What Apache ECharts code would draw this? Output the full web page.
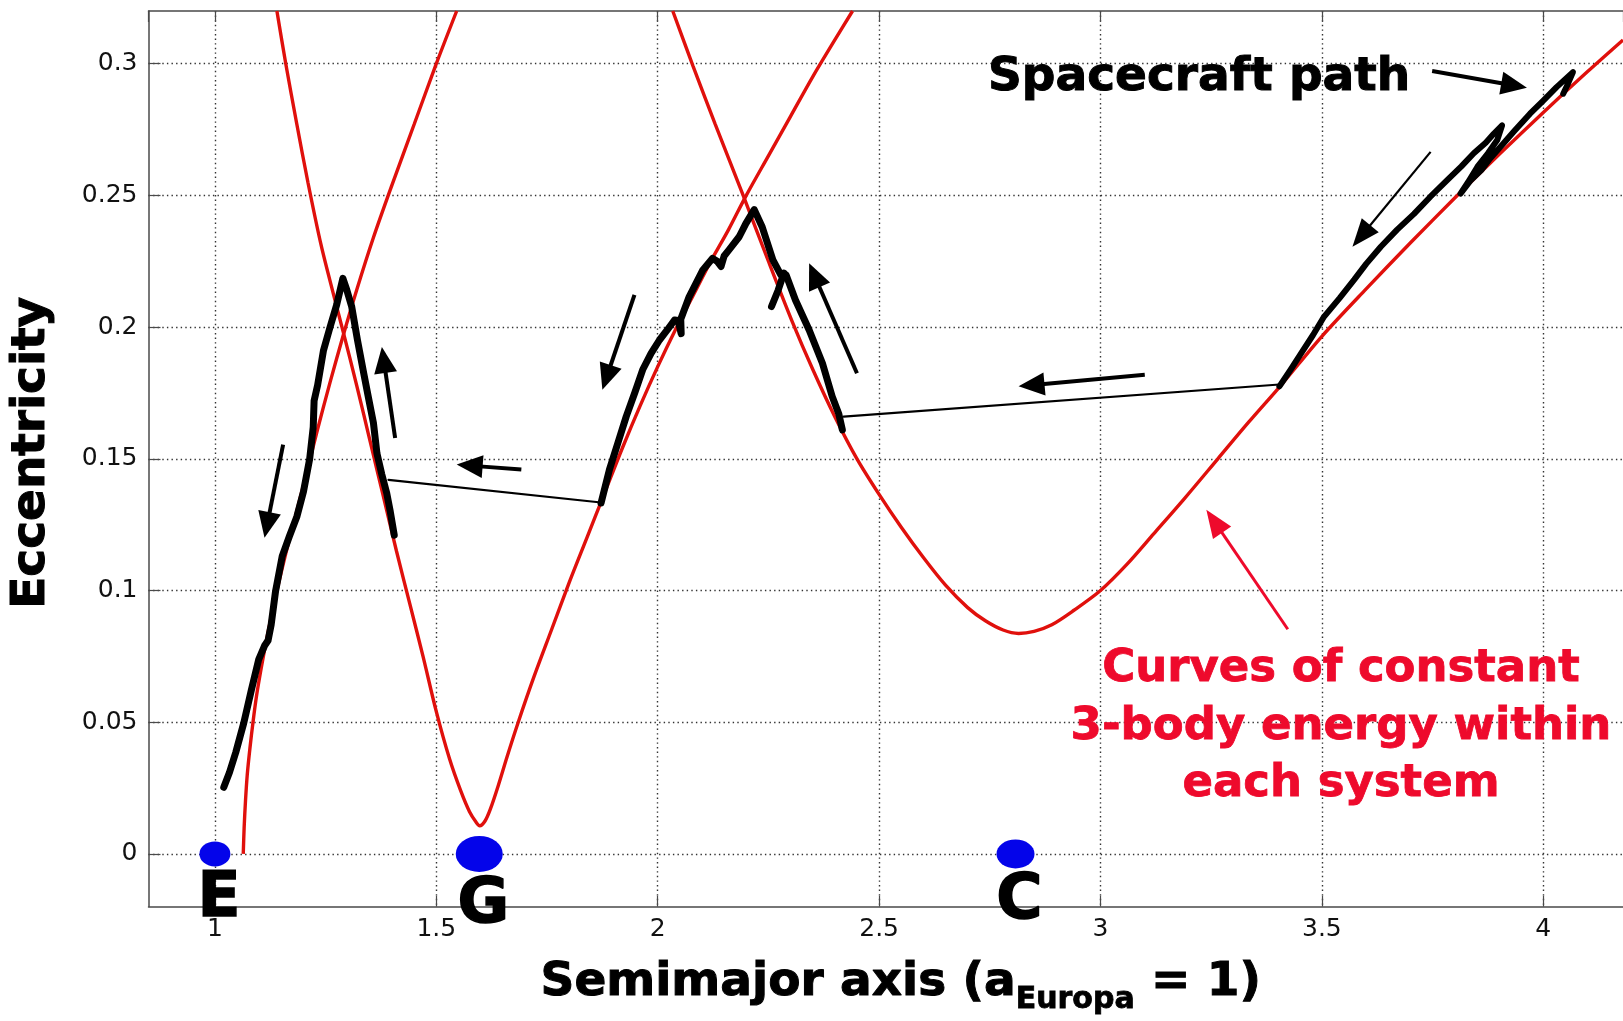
<!DOCTYPE html>
<html>
<head>
<meta charset="utf-8">
<title>Spacecraft path in semimajor axis / eccentricity</title>
<script src="https://cdn.jsdelivr.net/npm/echarts@6/dist/echarts.min.js"></script>
<style>
  html, body { margin: 0; padding: 0; background: #ffffff; }
  #chart { width: 1623px; height: 1021px; }
</style>
</head>
<body>
<div id="chart"></div>
<script>
// Constant 3-body energy curves, one per moon system: [semimajor axis, eccentricity]
const europaCurve = [
  [1.064, 0.000], [1.066, 0.010], [1.069, 0.020], [1.073, 0.030], [1.079, 0.040],
  [1.086, 0.050], [1.094, 0.060], [1.104, 0.070], [1.115, 0.080], [1.127, 0.090],
  [1.140, 0.100], [1.160, 0.114], [1.180, 0.127], [1.200, 0.140], [1.230, 0.160],
  [1.260, 0.179], [1.290, 0.197], [1.320, 0.214], [1.358, 0.234], [1.400, 0.254],
  [1.450, 0.277], [1.500, 0.300], [1.546, 0.320]
];
const ganymedeCurve = [
  [1.140, 0.320], [1.160, 0.300], [1.185, 0.277], [1.210, 0.255], [1.240, 0.231],
  [1.270, 0.211], [1.290, 0.198], [1.320, 0.178], [1.350, 0.157], [1.380, 0.136],
  [1.410, 0.115], [1.440, 0.095], [1.470, 0.075], [1.500, 0.054], [1.530, 0.036],
  [1.555, 0.024], [1.575, 0.016], [1.590, 0.012], [1.598, 0.0107], [1.610, 0.0125],
  [1.622, 0.017], [1.640, 0.026], [1.660, 0.037], [1.685, 0.050], [1.720, 0.067],
  [1.760, 0.085], [1.800, 0.103], [1.840, 0.120], [1.880, 0.137], [1.920, 0.154],
  [1.960, 0.170], [2.000, 0.185], [2.040, 0.199], [2.080, 0.212], [2.120, 0.225],
  [2.160, 0.237], [2.200, 0.250], [2.250, 0.265], [2.300, 0.280], [2.350, 0.295],
  [2.400, 0.309], [2.440, 0.320]
];
const callistoCurve = [
  [2.034, 0.320], [2.080, 0.299], [2.130, 0.277], [2.193, 0.250], [2.250, 0.225],
  [2.304, 0.202], [2.350, 0.184], [2.400, 0.166], [2.450, 0.150], [2.500, 0.1365],
  [2.550, 0.124], [2.600, 0.1125], [2.650, 0.102], [2.700, 0.0935], [2.740, 0.0885],
  [2.780, 0.085], [2.815, 0.0837], [2.850, 0.0845], [2.890, 0.087], [2.940, 0.0925],
  [3.000, 0.100], [3.060, 0.110], [3.120, 0.1215], [3.190, 0.135], [3.265, 0.150],
  [3.335, 0.164], [3.408, 0.178], [3.500, 0.1965], [3.600, 0.2145], [3.700, 0.232],
  [3.800, 0.249], [3.900, 0.2655], [4.000, 0.2815], [4.100, 0.297], [4.180, 0.309]
];

// Spacecraft path, leg by leg
const europaLeg = [
  [1.020, 0.0253], [1.033, 0.031], [1.047, 0.0385], [1.065, 0.0496], [1.082, 0.062],
  [1.099, 0.0739], [1.112, 0.079], [1.120, 0.081], [1.127, 0.087], [1.137, 0.0998],
  [1.152, 0.113], [1.168, 0.1205], [1.185, 0.128], [1.200, 0.1375], [1.214, 0.150],
  [1.222, 0.162], [1.224, 0.172], [1.232, 0.178], [1.245, 0.191], [1.260, 0.200],
  [1.275, 0.2085], [1.289, 0.2185], [1.298, 0.214], [1.309, 0.2077], [1.322, 0.195],
  [1.336, 0.1825], [1.347, 0.173], [1.358, 0.1636], [1.366, 0.152], [1.377, 0.144],
  [1.388, 0.137], [1.396, 0.130], [1.405, 0.121]
];
const ganymedeLeg = [
  [1.872, 0.1332], [1.891, 0.1459], [1.910, 0.156], [1.929, 0.1661], [1.948, 0.175],
  [1.966, 0.1838], [1.985, 0.190], [2.004, 0.1951], [2.022, 0.199], [2.038, 0.2027],
  [2.046, 0.2025], [2.053, 0.1975], [2.052, 0.203], [2.071, 0.2115], [2.102, 0.2217],
  [2.124, 0.2261], [2.134, 0.225], [2.143, 0.223], [2.150, 0.227], [2.161, 0.2293],
  [2.184, 0.2343], [2.199, 0.2393], [2.218, 0.2446], [2.236, 0.238], [2.260, 0.2255],
  [2.278, 0.2198], [2.290, 0.2198], [2.311, 0.2103], [2.342, 0.1989], [2.372, 0.1863],
  [2.394, 0.1737], [2.409, 0.1670], [2.417, 0.1610]
];
const ganymedeSpur = [[2.257, 0.2078], [2.272, 0.214], [2.285, 0.2205]];
const callistoLeg = [
  [3.404, 0.1775], [3.430, 0.184], [3.453, 0.190], [3.480, 0.197], [3.505, 0.204],
  [3.540, 0.211], [3.573, 0.218], [3.600, 0.224], [3.633, 0.2305], [3.670, 0.237],
  [3.708, 0.243], [3.745, 0.2495], [3.783, 0.2558], [3.815, 0.261], [3.843, 0.266],
  [3.870, 0.270], [3.888, 0.2734], [3.907, 0.2766], [3.896, 0.271], [3.875, 0.266],
  [3.851, 0.2608], [3.830, 0.255], [3.813, 0.2507], [3.835, 0.2555], [3.860, 0.2596],
  [3.880, 0.264], [3.903, 0.2684], [3.935, 0.2745], [3.970, 0.281], [4.000, 0.286],
  [4.030, 0.2911], [4.067, 0.2968], [4.056, 0.2925], [4.045, 0.2886]
];
// Transfers between systems
const transferGanymedeToEuropa = [[1.872, 0.1334], [1.392, 0.1420]];
const transferCallistoToGanymede = [[3.404, 0.1782], [2.420, 0.1660]];

// Moons on the a-axis
const moonNames = ['E', 'G', 'C'];
const moonSemimajor = [1.0, 1.597, 2.808];

// Direction arrows: [fromA, fromE, toA, toE]
const pathArrows = [
  [1.154, 0.1554, 1.112, 0.1200],
  [1.407, 0.1579, 1.377, 0.1924],
  [1.692, 0.1459, 1.546, 0.1478],
  [1.9475, 0.2122, 1.875, 0.1762],
  [2.450, 0.1825, 2.342, 0.2242],
  [3.100, 0.1819, 2.815, 0.1775],
  [3.749, 0.2972, 3.963, 0.2909]
];
const thinArrows = [[3.7455, 0.2665, 3.569, 0.2305]];
const curveArrows = [[3.423, 0.0853, 3.239, 0.1307]];

const FONT = '"DejaVu Sans", "Liberation Sans", sans-serif';
const CURVE_RED = '#e0100c';
const NOTE_RED = '#ee0a2c';
const MOON_BLUE = '#0404ea';
const AXIS_GREY = '#4a4a4a';

const moonSizes = { E: [31, 25], G: [47, 36], C: [38, 29] };

function arrowRenderer(color, shaftWidth, headLength, headWidth) {
  return function (params, api) {
    const p1 = api.coord([api.value(0), api.value(1)]);
    const p2 = api.coord([api.value(2), api.value(3)]);
    const dx = p2[0] - p1[0], dy = p2[1] - p1[1];
    const len = Math.hypot(dx, dy) || 1;
    const ux = dx / len, uy = dy / len;
    const bx = p2[0] - ux * headLength, by = p2[1] - uy * headLength;
    const nx = -uy, ny = ux;
    return {
      type: 'group',
      children: [
        {
          type: 'line',
          shape: { x1: p1[0], y1: p1[1], x2: bx + ux * 3, y2: by + uy * 3 },
          style: { stroke: color, lineWidth: shaftWidth, lineCap: 'butt' }
        },
        {
          type: 'polygon',
          shape: { points: [
            [p2[0], p2[1]],
            [bx + nx * headWidth / 2, by + ny * headWidth / 2],
            [bx - nx * headWidth / 2, by - ny * headWidth / 2]
          ] },
          style: { fill: color }
        }
      ]
    };
  };
}

function onStep(step) {
  return function (v) {
    const k = v / step;
    return Math.abs(k - Math.round(k)) < 1e-6 ? String(+v.toFixed(2)) : '';
  };
}

function curveSeries(name, data) {
  return {
    name: name, type: 'line', data: data, showSymbol: false, smooth: 0.3,
    lineStyle: { color: CURVE_RED, width: 3.4 }, z: 3, silent: true
  };
}
function legSeries(name, data, width) {
  return {
    name: name, type: 'line', data: data, showSymbol: false,
    lineStyle: { color: '#000000', width: width, cap: 'round', join: 'round' },
    z: 4, silent: true
  };
}
function arrowSeries(name, data, color, shaft, headL, headW) {
  return {
    name: name, type: 'custom', data: data, renderItem: arrowRenderer(color, shaft, headL, headW),
    encode: { x: [0, 2], y: [1, 3] }, z: 6, silent: true
  };
}

const chart = echarts.init(document.getElementById('chart'), null, { renderer: 'canvas' });

const tickFont = { fontFamily: FONT, fontSize: 25, color: '#111' };
const gridDots = { color: '#333333', width: 1.4, type: [1.4, 3.2] };

chart.setOption({
  animation: false,
  backgroundColor: '#ffffff',
  grid: { left: 145, top: 11, right: 0, bottom: 113, containLabel: false },
  xAxis: [
    {
      type: 'value', min: 0.85, max: 4.18, splitNumber: 7,
      axisLine: { onZero: false, lineStyle: { color: AXIS_GREY, width: 1.5 } },
      axisTick: { inside: true, length: 11, lineStyle: { color: AXIS_GREY, width: 1.2 } },
      axisLabel: Object.assign({
        formatter: onStep(0.5), margin: 10, showMinLabel: false, showMaxLabel: false
      }, tickFont),
      splitLine: { show: true, showMinLine: false, showMaxLine: false, lineStyle: gridDots },
      name: '{m|Semimajor axis (a}{s|Europa}{m| = 1)}',
      nameLocation: 'middle', nameGap: 43,
      nameTextStyle: {
        padding: [0, 0, 0, 30],
        rich: {
          m: { fontFamily: FONT, fontWeight: 'bold', fontSize: 47, lineHeight: 66, color: '#000',
               textBorderColor: '#000', textBorderWidth: 1 },
          s: { fontFamily: FONT, fontWeight: 'bold', fontSize: 30, lineHeight: 30, verticalAlign: 'bottom',
               color: '#000', textBorderColor: '#000', textBorderWidth: 0.8 }
        }
      }
    },
    {
      type: 'value', position: 'top', min: 0.85, max: 4.18, splitNumber: 7,
      axisLine: { show: true, onZero: false, lineStyle: { color: AXIS_GREY, width: 1.5 } },
      axisTick: { show: true, inside: true, length: 11, lineStyle: { color: AXIS_GREY, width: 1.2 } },
      axisLabel: { show: false },
      splitLine: { show: false }
    }
  ],
  yAxis: {
    type: 'value', min: -0.02, max: 0.32, splitNumber: 7,
    axisLine: { show: true, onZero: false, lineStyle: { color: AXIS_GREY, width: 1.5 } },
    axisTick: { show: true, inside: true, length: 12, lineStyle: { color: AXIS_GREY, width: 1.2 } },
    axisLabel: Object.assign({
      formatter: onStep(0.05), margin: 11, showMinLabel: false, showMaxLabel: false
    }, tickFont),
    splitLine: { show: true, showMinLine: false, showMaxLine: false, lineStyle: gridDots },
    name: 'Eccentricity', nameLocation: 'middle', nameRotate: 90, nameGap: 93,
    nameTextStyle: {
      fontFamily: FONT, fontWeight: 'bold', fontSize: 47, color: '#000', padding: [0, 0, 0, 12],
      textBorderColor: '#000', textBorderWidth: 1
    }
  },
  series: [
    curveSeries('Europa system', europaCurve),
    curveSeries('Ganymede system', ganymedeCurve),
    curveSeries('Callisto system', callistoCurve),
    legSeries('Europa leg', europaLeg, 7),
    legSeries('Ganymede leg', ganymedeLeg, 7),
    legSeries('Ganymede leg spur', ganymedeSpur, 7),
    legSeries('Callisto leg', callistoLeg, 6),
    legSeries('Ganymede to Europa', transferGanymedeToEuropa, 2.2),
    legSeries('Callisto to Ganymede', transferCallistoToGanymede, 2.2),
    {
      name: 'Moons', type: 'scatter', z: 5, silent: true,
      data: moonNames.map(function (n, i) {
        return { name: n, value: [moonSemimajor[i], 0], symbolSize: moonSizes[n] };
      }),
      symbol: 'circle',
      itemStyle: { color: MOON_BLUE, opacity: 1 },
      label: {
        show: true, position: 'bottom', distance: 2, formatter: '{b}', offset: [4, 0],
        fontFamily: FONT, fontWeight: 'bold', fontSize: 63, color: '#000', opacity: 1,
        textBorderColor: '#000', textBorderWidth: 1.5
      }
    },
    arrowSeries('Path direction', pathArrows, '#000000', 4, 26, 23),
    arrowSeries('Path direction (thin)', thinArrows, '#000000', 2.2, 28, 22),
    arrowSeries('Curve pointer', curveArrows, NOTE_RED, 3, 28, 22)
  ],
  graphic: [
    {
      type: 'text', x: 988, y: 78, z: 10, silent: true,
      style: {
        text: 'Spacecraft path', fill: '#000', stroke: '#000', lineWidth: 1,
        font: 'bold 47px ' + FONT, align: 'left', verticalAlign: 'middle'
      }
    },
    {
      type: 'text', x: 1341, y: 727, z: 10, silent: true,
      style: {
        text: 'Curves of constant\n3-body energy within\neach system', fill: NOTE_RED,
        stroke: NOTE_RED, lineWidth: 0.8,
        font: 'bold 45px ' + FONT, lineHeight: 57.5, align: 'center', verticalAlign: 'middle'
      }
    }
  ]
});
</script>
</body>
</html>
